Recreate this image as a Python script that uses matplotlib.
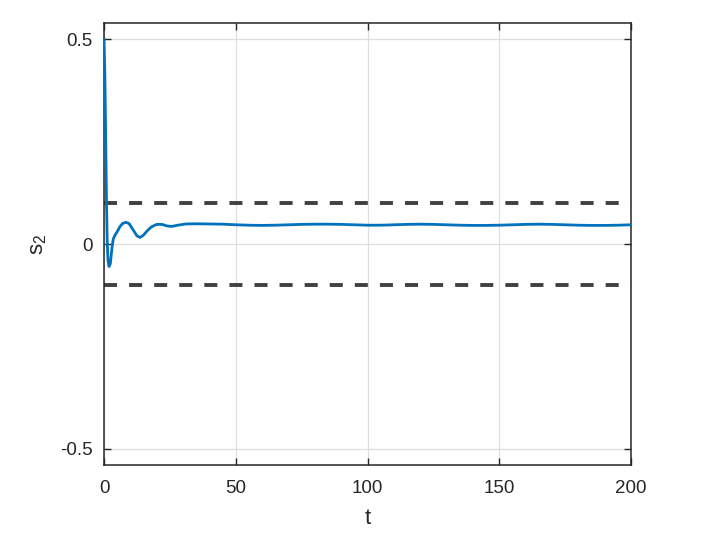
import matplotlib
matplotlib.use("Agg")
import matplotlib.pyplot as plt

plt.rcParams['font.family'] = ['Liberation Sans', 'DejaVu Sans']
plt.rcParams['axes.unicode_minus'] = False

t = [0, 0.3, 0.6, 0.9, 1.2, 1.5, 1.9, 2.4, 3.0, 3.5, 4.2, 5.0, 6.0, 7.0, 8.3, 9.5,
     11, 12.5, 13.7, 15, 16.5, 18, 20, 22, 24, 25.7, 28, 31, 35, 40, 45, 50, 55, 60,
     65, 70, 75, 80, 85, 90, 95, 100, 105, 110, 115, 120, 125, 130, 135, 140, 145,
     150, 155, 160, 165, 170, 175, 180, 185, 190, 195, 200]
s2 = [0.5, 0.42, 0.28, 0.12, 0.01, -0.04, -0.055, -0.048, -0.01, 0.012, 0.022, 0.03,
      0.042, 0.05, 0.053, 0.05, 0.035, 0.02, 0.016, 0.022, 0.033, 0.042, 0.048, 0.048,
      0.044, 0.043, 0.046, 0.049, 0.0495, 0.049, 0.0485, 0.047, 0.046, 0.0455, 0.046,
      0.047, 0.048, 0.0485, 0.0485, 0.048, 0.047, 0.046, 0.046, 0.047, 0.048, 0.0485,
      0.048, 0.047, 0.046, 0.0455, 0.0455, 0.046, 0.047, 0.048, 0.0485, 0.048, 0.047,
      0.046, 0.0455, 0.0455, 0.046, 0.047]
bound = 0.1
xticks = [0, 50, 100, 150, 200]
yticks = [-0.5, 0, 0.5]
yticklabels = ['-0.5', '0', '0.5']

fig = plt.figure(figsize=(7.11, 5.43), dpi=100)
ax = fig.add_axes([0.1463, 0.1436, 0.8875 - 0.1463, 0.9576 - 0.1436])

ax.plot(t, s2, color='#0072BD', lw=2.0, zorder=3)
ax.axhline(bound, color='#404040', lw=2.8, dashes=(3.35, 3.1), zorder=2)
ax.axhline(-bound, color='#404040', lw=2.8, dashes=(3.35, 3.1), zorder=2)

ax.set_xlim(0, 200)
ax.set_ylim(-0.54, 0.54)
ax.set_xticks(xticks)
ax.set_yticks(yticks)
ax.set_yticklabels(yticklabels)
ax.grid(True, color='#dedede', lw=0.9)
ax.set_axisbelow(True)
ax.tick_params(direction='in', top=True, right=True, length=5, width=1,
               labelsize=13.5, colors='#262626')
ax.tick_params(axis='x', pad=11)
ax.tick_params(axis='y', pad=8)
for sp in ax.spines.values():
    sp.set_color('#262626')
    sp.set_linewidth(1.1)
ax.set_xlabel('t', fontsize=16, color='#262626', labelpad=8)
ax.set_ylabel(r'$\mathregular{s_2}$', fontsize=16, color='#262626', labelpad=8)

fig.savefig('out.png', dpi=100)
